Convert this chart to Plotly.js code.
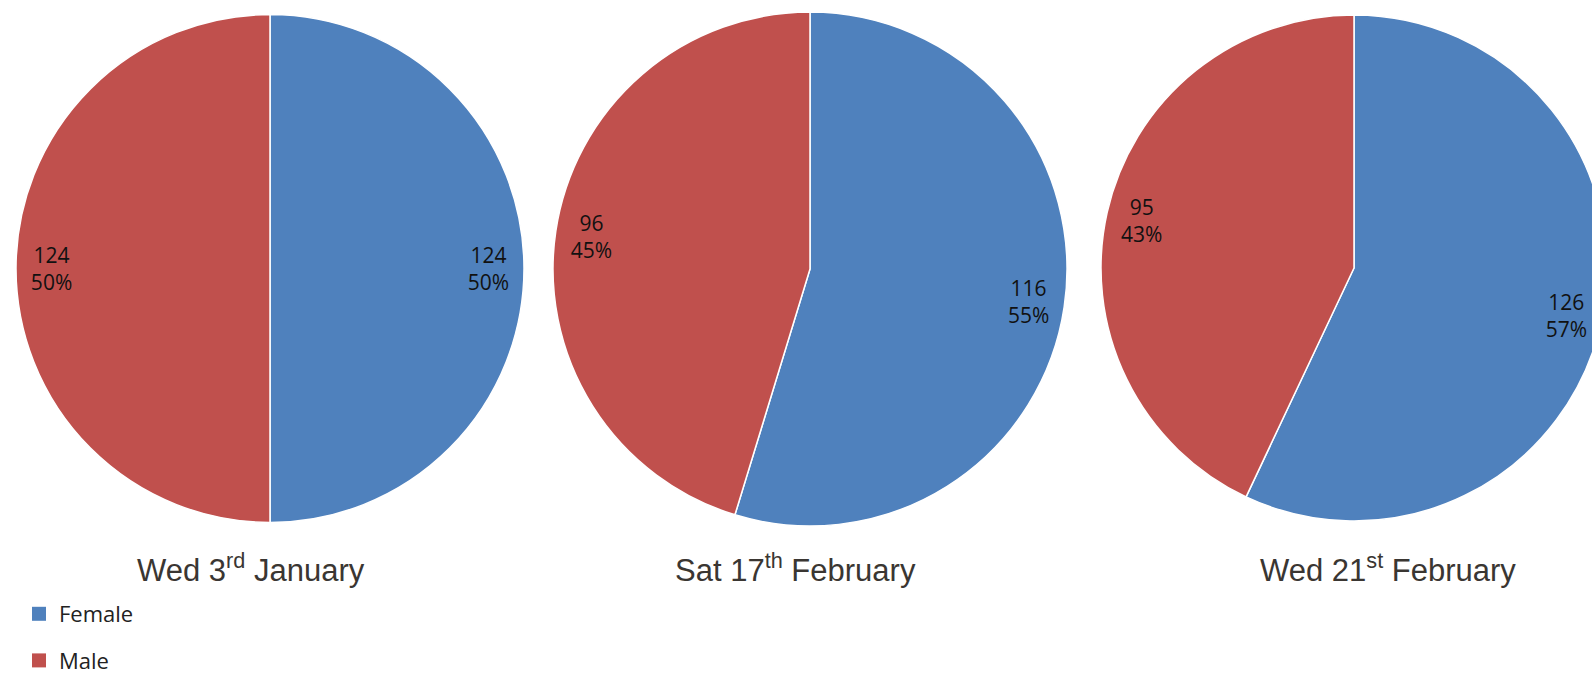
<!DOCTYPE html>
<html>
<head>
<meta charset="utf-8">
<script src="https://cdn.plot.ly/plotly-3.0.1.min.js"></script>
<style>
html,body{margin:0;padding:0;overflow:hidden;background:#fff;width:1592px;height:673px;}
#chart{width:1620px;height:673px;}
</style>
</head>
<body>
<div id="chart"></div>
<script>
// ---- data ----
const categories = ['Female', 'Male'];
const dates = ['Wed 3<sup>rd</sup> January', 'Sat 17<sup>th</sup> February', 'Wed 21<sup>st</sup> February'];
const female = [124, 116, 126];
const male = [124, 96, 95];
const colors = ['#4F81BD', '#C0504D'];

// ---- layout geometry (pixels) ----
const W = 1620, H = 673;
const pies = [
  {cx: 270, cy: 268.5, r: 254, tx: 251},
  {cx: 810, cy: 269, r: 257, tx: 795},
  {cx: 1354, cy: 268, r: 253, tx: 1388}
];

const traces = [];
const annotations = [];
dates.forEach((d, i) => {
  const p = pies[i];
  const domain = {
    x: [(p.cx - p.r) / W, (p.cx + p.r) / W],
    y: [1 - (p.cy + p.r) / H, 1 - (p.cy - p.r) / H]
  };
  const vals = [female[i], male[i]];
  traces.push({
    type: 'pie', labels: categories, values: vals, domain: domain,
    sort: false, direction: 'clockwise', rotation: 0,
    marker: {colors: colors, line: {color: '#ffffff', width: 1.5}},
    textinfo: 'none', hoverinfo: 'label+value+percent', showlegend: false
  });
  traces.push({
    type: 'pie', labels: categories, values: vals, domain: domain,
    sort: false, direction: 'clockwise', rotation: 0, hole: 0.72,
    marker: {colors: ['rgba(0,0,0,0)', 'rgba(0,0,0,0)'], line: {width: 0}},
    texttemplate: '%{value}<br>%{percent:.0%}',
    textposition: 'inside', insidetextorientation: 'horizontal',
    insidetextfont: {family: 'Open Sans, Noto Sans, sans-serif', size: 21, color: '#111111'},
    hoverinfo: 'skip', showlegend: false
  });
  annotations.push({
    text: d, xref: 'paper', yref: 'paper', x: p.tx / W, y: 1 - 568 / H,
    xanchor: 'center', yanchor: 'middle', showarrow: false,
    font: {family: 'Liberation Sans, Arial, sans-serif', size: 31, color: '#3a3632'}
  });
});

// legend entries
categories.forEach((c, k) => {
  traces.push({
    type: 'scatter', mode: 'markers', x: [null], y: [null], name: c,
    legendgroup: c, showlegend: true,
    marker: {symbol: 'square', size: 14, color: colors[k]}
  });
});

const layout = {
  width: W, height: H,
  margin: {l: 0, r: 0, t: 0, b: 0, autoexpand: false},
  paper_bgcolor: '#ffffff', plot_bgcolor: '#ffffff',
  xaxis: {visible: false}, yaxis: {visible: false},
  showlegend: true,
  legend: {
    xref: 'container', yref: 'container',
    x: 19 / W, y: 1 - 593 / H, xanchor: 'left', yanchor: 'top',
    orientation: 'v', traceorder: 'grouped', tracegroupgap: 15,
    font: {family: 'Open Sans, Noto Sans, sans-serif', size: 22, color: '#222222'},
    bgcolor: 'rgba(0,0,0,0)', borderwidth: 0
  },
  annotations: annotations
};

Plotly.newPlot('chart', traces, layout, {displayModeBar: false, staticPlot: true});
</script>
</body>
</html>
